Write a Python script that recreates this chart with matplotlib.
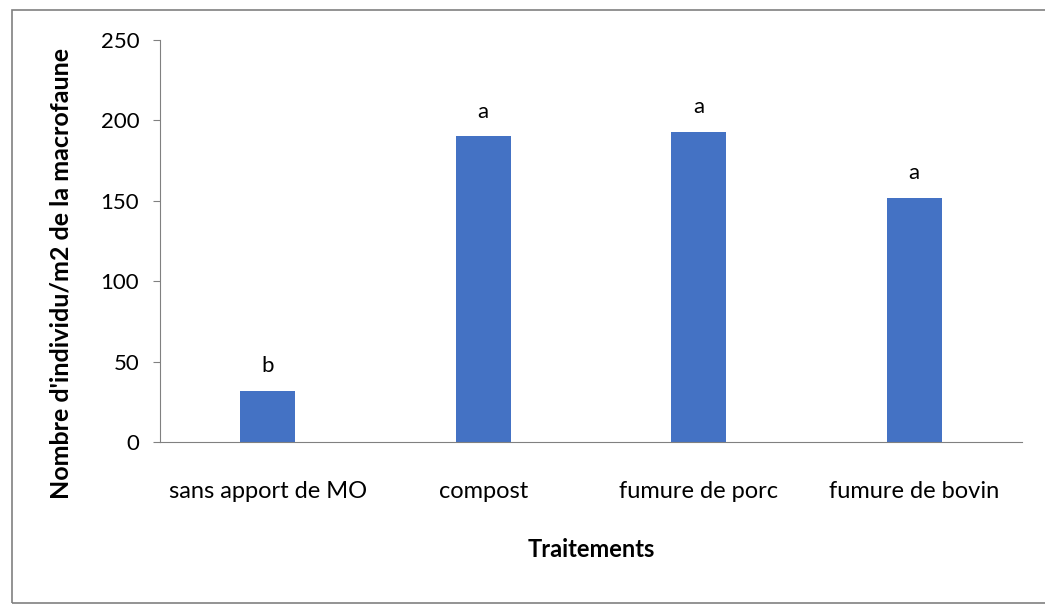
import matplotlib.pyplot as plt
from matplotlib.patches import Rectangle

# data
traitements = ["sans apport de MO", "compost", "fumure de porc", "fumure de bovin"]
individus = [32, 190, 193, 152]
lettres = ["b", "a", "a", "a"]

plt.rcParams["font.family"] = ["Lato", "DejaVu Sans"]

fig = plt.figure(figsize=(10.45, 6.16), dpi=100)
ax = fig.add_axes([160 / 1045, 1 - 442 / 616, (1022 - 160) / 1045, (442 - 40) / 616])

x = range(len(traitements))
bars = ax.bar(x, individus, width=0.255, color="#4472C4")

for b, lab in zip(bars, lettres):
    ax.text(b.get_x() + b.get_width() / 2, b.get_height() + 9, lab,
            ha="center", va="bottom", fontsize=16)

ax.set_xlim(-0.5, len(traitements) - 0.5)
ax.set_ylim(0, 250)
ax.set_yticks([0, 50, 100, 150, 200, 250])
ax.set_xticks(list(x))
ax.set_xticklabels(traitements, fontsize=17)
ax.tick_params(axis="x", length=0, pad=28)
ax.tick_params(axis="y", labelsize=16, length=5, color="#808080", pad=10)

for s in ["top", "right"]:
    ax.spines[s].set_visible(False)
ax.spines["left"].set_color("#808080")
ax.spines["bottom"].set_color("#808080")

ax.set_xlabel("Traitements", fontsize=17, fontweight="bold", labelpad=26)
ax.set_ylabel("Nombre d'individu/m2 de la macrofaune", fontsize=18,
              fontweight="bold", labelpad=20, y=0.42)

# outer frame of the chart area
fig.patches.append(Rectangle((12 / 1045, 1 - 603 / 616), 1.1, (603 - 10) / 616,
                             transform=fig.transFigure, fill=False,
                             edgecolor="#808080", linewidth=1.2))

fig.savefig("out.png", dpi=100)
